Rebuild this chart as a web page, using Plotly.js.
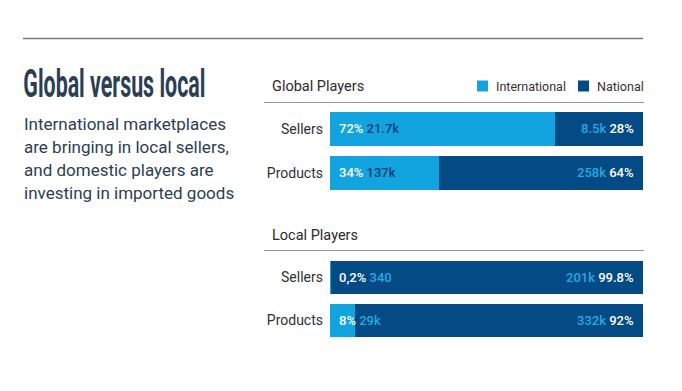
<!DOCTYPE html>
<html>
<head>
<meta charset="utf-8">
<script src="https://cdn.plot.ly/plotly-3.0.1.min.js"></script>
<style>
  html, body { margin: 0; padding: 0; background: #ffffff; }
  #chart { width: 682px; height: 391px; }
</style>
</head>
<body>
<div id="chart"></div>
<script>
// ---- data ----
const categories = ['Sellers', 'Products'];
const seriesNames = ['International', 'National'];

const globalIntl = [21700, 137000];
const globalNatl = [8500, 258000];
const localIntl = [340, 29000];
const localNatl = [201000, 332000];

const globalIntlPct = ['72%', '34%'];
const globalNatlPct = ['28%', '64%'];
const localIntlPct = ['0,2%', '8%'];
const localNatlPct = ['99.8%', '92%'];

const globalIntlLbl = ['21.7k', '137k'];
const globalNatlLbl = ['8.5k', '258k'];
const localIntlLbl = ['340', '29k'];
const localNatlLbl = ['201k', '332k'];

const headline = 'Global versus local';
const subtitleLines = [
  'International marketplaces',
  'are bringing in local sellers,',
  'and domestic players are',
  'investing in imported goods'
];
const panelTitles = ['Global Players', 'Local Players'];

// ---- style ----
const W = 682, H = 391;
const LIGHT = '#12a4de';
const DARK = '#044a84';
const NAVY_TXT = '#0b3f74';
const LIGHTBLUE_TXT = '#27a9e1';
const INK = '#2b3e52';
const px = v => v / W;
const py = v => 1 - v / H;
const colors = [LIGHT, DARK];

const data = [
  {type: 'bar', orientation: 'h', name: seriesNames[0], y: categories, x: globalIntl,
   xaxis: 'x', yaxis: 'y', marker: {color: LIGHT}, hoverinfo: 'skip'},
  {type: 'bar', orientation: 'h', name: seriesNames[1], y: categories, x: globalNatl,
   xaxis: 'x', yaxis: 'y', marker: {color: DARK}, hoverinfo: 'skip'},
  {type: 'bar', orientation: 'h', name: seriesNames[0], y: categories, x: localIntl,
   xaxis: 'x2', yaxis: 'y2', marker: {color: LIGHT}, hoverinfo: 'skip'},
  {type: 'bar', orientation: 'h', name: seriesNames[1], y: categories, x: localNatl,
   xaxis: 'x2', yaxis: 'y2', marker: {color: DARK}, hoverinfo: 'skip'}
];

const labelFont = {family: 'Roboto, Arial, sans-serif', size: 13, weight: 500, color: '#ffffff'};
const span = (c, t) => '<span style="color:' + c + '">' + t + '</span>';

const annotations = [];
function addLabels(xref, yref, leftPct, leftLbl, leftCol, rightPct, rightLbl, rightCol) {
  categories.forEach((c, i) => {
    annotations.push({xref: xref, yref: yref, x: 0, y: c, xanchor: 'left', yanchor: 'middle',
      xshift: 7, showarrow: false, font: labelFont,
      text: span('#ffffff', leftPct[i]) + ' ' + span(leftCol[i], leftLbl[i])});
    annotations.push({xref: xref, yref: yref, x: 100, y: c, xanchor: 'right', yanchor: 'middle',
      xshift: -7, showarrow: false, font: labelFont,
      text: span(rightCol[i], rightLbl[i]) + ' ' + span('#ffffff', rightPct[i])});
  });
}
addLabels('x', 'y', globalIntlPct, globalIntlLbl, [NAVY_TXT, NAVY_TXT],
          globalNatlPct, globalNatlLbl, [LIGHTBLUE_TXT, LIGHTBLUE_TXT]);
addLabels('x2', 'y2', localIntlPct, localIntlLbl, [LIGHTBLUE_TXT, LIGHTBLUE_TXT],
          localNatlPct, localNatlLbl, [LIGHTBLUE_TXT, LIGHTBLUE_TXT]);

// headline & subtitle
annotations.push({xref: 'paper', yref: 'paper', x: px(22), y: py(84), xanchor: 'left', yanchor: 'middle',
  showarrow: false, text: headline,
  font: {family: 'Roboto, Arial, sans-serif', size: 38, weight: 'bold', color: INK}});
const subY = [124, 147, 169.5, 192.5];
subtitleLines.forEach((t, i) => {
  annotations.push({xref: 'paper', yref: 'paper', x: px(22), y: py(subY[i]), xanchor: 'left', yanchor: 'middle',
    showarrow: false, text: t, font: {family: 'Roboto, Arial, sans-serif', size: 17, color: INK}});
});
// panel titles
[86, 235].forEach((yy, i) => {
  annotations.push({xref: 'paper', yref: 'paper', x: px(270), y: py(yy), xanchor: 'left', yanchor: 'middle',
    showarrow: false, text: panelTitles[i],
    font: {family: 'Roboto, Arial, sans-serif', size: 14.5, color: '#2a2a2a'}});
});

const shapes = [
  {type: 'line', xref: 'paper', yref: 'paper', x0: px(23), x1: px(643), y0: py(38.5), y1: py(38.5),
   line: {color: '#7a7a7a', width: 1.5}},
  {type: 'line', xref: 'paper', yref: 'paper', x0: px(264), x1: px(644), y0: py(102.5), y1: py(102.5),
   line: {color: '#9b9494', width: 1}},
  {type: 'line', xref: 'paper', yref: 'paper', x0: px(264), x1: px(644), y0: py(250.5), y1: py(250.5),
   line: {color: '#9b9494', width: 1}}
];

// legend (swatches + labels)
const legendX = [477, 578];
const legendTextX = [494, 595];
seriesNames.forEach((n, i) => {
  shapes.push({type: 'rect', xref: 'paper', yref: 'paper', x0: px(legendX[i]), x1: px(legendX[i] + 11),
    y0: py(91.5), y1: py(80.5), line: {width: 0}, fillcolor: colors[i]});
  annotations.push({xref: 'paper', yref: 'paper', x: px(legendTextX[i]), y: py(86), xanchor: 'left', yanchor: 'middle',
    showarrow: false, text: n, font: {family: 'Roboto, Arial, sans-serif', size: 12.5, color: '#333333'}});
});

const xaxisBase = {domain: [px(330), px(643)], range: [0, 100], showgrid: false, zeroline: false,
  showticklabels: false, ticks: '', fixedrange: true};
const yaxisBase = {autorange: 'reversed', showgrid: false, zeroline: false, ticks: '',
  ticklabelstandoff: 6, tickfont: {family: 'Roboto, Arial, sans-serif', size: 14, color: '#2f2f2f'}, fixedrange: true};

const layout = {
  width: W, height: H,
  margin: {l: 0, r: 0, t: 0, b: 0},
  paper_bgcolor: '#ffffff', plot_bgcolor: '#ffffff',
  barmode: 'stack', barnorm: 'percent', bargap: 0.23,
  xaxis: Object.assign({}, xaxisBase, {anchor: 'y'}),
  yaxis: Object.assign({}, yaxisBase, {domain: [py(195), py(107)], anchor: 'x'}),
  xaxis2: Object.assign({}, xaxisBase, {anchor: 'y2'}),
  yaxis2: Object.assign({}, yaxisBase, {domain: [py(342), py(256)], anchor: 'x2'}),
  showlegend: false,
  annotations: annotations,
  shapes: shapes
};

Plotly.newPlot('chart', data, layout, {staticPlot: true, displayModeBar: false}).then(() => {
  document.querySelectorAll('.annotation').forEach(a => {
    if (a.textContent === headline) {
      const bb = a.getBBox();
      const s = 184 / bb.width;
      a.setAttribute('transform', 'translate(' + (bb.x * (1 - s)) + ',0) scale(' + s + ',1)');
    }
  });
});
</script>
</body>
</html>
